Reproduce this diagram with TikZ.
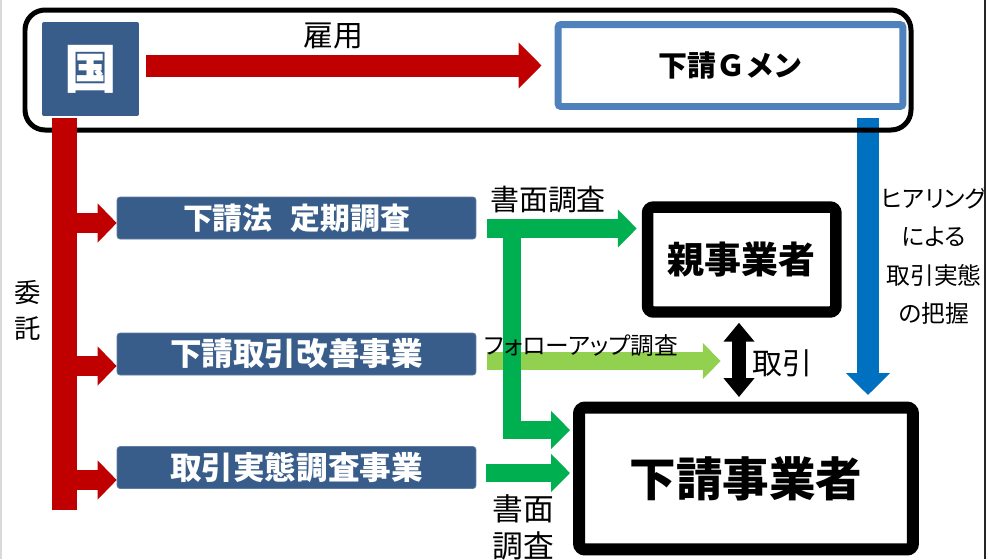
\documentclass[tikz,border=0pt]{standalone}
\usepackage{fontspec}
\setmainfont{Noto Sans CJK JP}
\newfontfamily\proptext[RawFeature=+palt]{Noto Sans CJK JP}
\usetikzlibrary{arrows.meta}
\definecolor{boxblue}{HTML}{385D8A}
\definecolor{gmenblue}{HTML}{4F81BD}
\definecolor{arrred}{HTML}{C00000}
\definecolor{arrgreen}{HTML}{00B050}
\definecolor{arrlime}{HTML}{92D050}
\definecolor{arrblue}{HTML}{0070C0}
\tikzset{
  jigyo/.style={fill=boxblue, draw=boxblue!80!white, rounded corners=0.06cm,
    minimum width=7.18cm, minimum height=0.84cm, inner sep=0, text=white,
    font=\bfseries\fontsize{18pt}{20pt}\selectfont},
  jigyosha/.style={draw=black, fill=white, rounded corners=0.12cm, inner sep=0},
  label/.style={inner sep=0, align=center},
  redarr/.style={draw=arrred, line width=0.44cm, -{Triangle[length=0.46cm,width=0.9cm]}},
  redbranch/.style={draw=arrred, line width=0.4cm, -{Triangle[length=0.38cm,width=0.76cm]}},
  greenarr/.style={draw=arrgreen, line width=0.37cm, line join=miter, -{Triangle[length=0.38cm,width=0.74cm]}},
  limearr/.style={draw=arrlime, line width=0.36cm, -{Triangle[length=0.36cm,width=0.7cm]}},
  bluearr/.style={draw=arrblue, line width=0.44cm, -{Triangle[length=0.44cm,width=0.86cm]}},
  tradearr/.style={draw=black, line width=0.28cm, {Triangle[length=0.38cm,width=0.6cm]}-{Triangle[length=0.38cm,width=0.6cm]}}
}
\begin{document}
\begin{tikzpicture}[x=0.02cm,y=-0.02cm]
\useasboundingbox (0,0) rectangle (988,559);

% boxes
\node[fill=boxblue, rounded corners=0.04cm, minimum width=1.94cm, minimum height=1.88cm,
  inner sep=0, text=white, font=\bfseries\fontsize{30pt}{32pt}\selectfont] (kuni) at (90.5,69) {国};
\node[draw=gmenblue, fill=white, line width=0.14cm, rounded corners=0.06cm, minimum width=6.9cm,
  minimum height=1.64cm, inner sep=0, font=\bfseries\fontsize{16.5pt}{20pt}\selectfont] (gmen) at (730.5,65.5) {下請Ｇメン};
\node[jigyo, font=\bfseries\fontsize{17pt}{20pt}\selectfont] (teiki) at (296.5,218) {下請法\hspace{0.6em}定期調査};
\node[jigyo] (kaizen) at (296.5,354) {下請取引改善事業};
\node[jigyo] (jittai) at (296.5,467.5) {取引実態調査事業};
\node[jigyosha, minimum width=3.77cm, minimum height=2.1cm, line width=0.23cm,
  font=\bfseries\fontsize{21pt}{24pt}\selectfont] (oya) at (741.75,259.5) {親事業者};
\node[jigyosha, minimum width=6.68cm, minimum height=2.84cm, line width=0.24cm,
  font=\bfseries\fontsize{26.5pt}{30pt}\selectfont] (shita) at (746,478.5) {下請事業者};

% points where the arrows start
\coordinate (trunkTop) at (64.5,118);
\coordinate (trunkEnd) at (64.5,510);
\coordinate (blueTop) at (868,118);
\coordinate (gTop) at (512,228.5);
\coordinate (gLow) at ([xshift=0.2cm,yshift=-0.11cm]jittai.east);
\coordinate (lime) at ([xshift=0.22cm,yshift=-0.14cm]kaizen.east);
\coordinate (tradeA) at ([xshift=-0.055cm,yshift=-0.1cm]oya.south);

% hearing arrow (under the frame)
\draw[bluearr] (blueTop) -- ([yshift=0.13cm]blueTop |- shita.north);

% frame round the top row
\draw[line width=0.1cm, rounded corners=0.4cm] (25,10) rectangle (911,130);

% employment
\draw[redarr] ([xshift=0.14cm]kuni.east |- gmen.west) -- ([xshift=-0.26cm]gmen.west);
\node[label, font=\fontsize{17pt}{20pt}\selectfont] (koyo) at (333,36) {雇用};

% commission
\draw[draw=arrred, line width=0.5cm] (trunkTop) -- (trunkEnd);
\draw[redbranch] ([yshift=-0.1cm]trunkTop |- teiki.west) -- ([yshift=-0.1cm]teiki.west);
\draw[redbranch] ([yshift=-0.24cm]trunkTop |- kaizen.west) -- ([yshift=-0.24cm]kaizen.west);
\draw[redbranch] ([yshift=-0.25cm]trunkTop |- jittai.west) -- ([yshift=-0.25cm]jittai.west);
\node[label, font=\fontsize{15pt}{20.5pt}\selectfont] (itaku) at (28,310) {委\\託};

% surveys
\draw[limearr] (lime) -- ([xshift=-0.42cm]lime -| oya.south);
\draw[greenarr] ([xshift=0.22cm]teiki.east |- gTop) -- ([xshift=-0.1cm]oya.west |- gTop);
\draw[greenarr, line width=0.36cm] (gTop) |- ([xshift=-0.06cm,yshift=0.97cm]shita.west);
\draw[greenarr, line width=0.36cm] (gLow) -- ([xshift=-0.06cm]gLow -| shita.west);
\node[label, font=\fontsize{16.5pt}{20pt}\selectfont] (shomen) at (548,200) {書面調査};
\node[label, font=\proptext\fontsize{13.5pt}{18pt}\selectfont] (follow) at (581,346) {フォローアップ調査};
\node[label, font=\fontsize{17.5pt}{21pt}\selectfont] (shomen2) at (523,527) {書面\\調査};

% trade
\draw[tradearr] (tradeA) -- ([yshift=0.09cm]tradeA |- shita.north);
\node[label, font=\fontsize{17pt}{20pt}\selectfont] (torihiki) at (782,363) {取引};
\node[label, font=\proptext\fontsize{13.5pt}{22pt}\selectfont] (hearing) at (934,256) {ヒアリング\\による\\取引実態\\の把握};

% slide edges
\draw[black!15, line width=0.04cm] (1,0) -- (1,559);
\fill[white] (985,0) rectangle (988,559);
\draw[black!85, line width=0.04cm] (985,0) -- (985,559);
\end{tikzpicture}
\end{document}
